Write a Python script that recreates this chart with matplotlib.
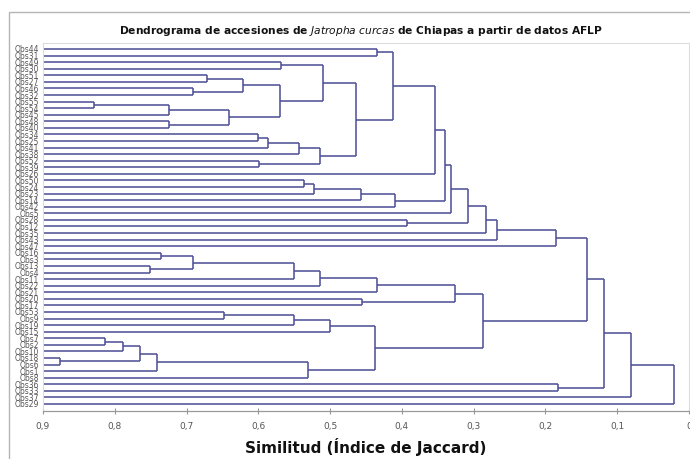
import matplotlib
matplotlib.use("Agg")
import matplotlib.pyplot as plt
from matplotlib.patches import Rectangle

# ---- data ----
leaf_labels = ["Obs44", "Obs31", "Obs49", "Obs30", "Obs51", "Obs27", "Obs46", "Obs32",
               "Obs55", "Obs54", "Obs45", "Obs48", "Obs40", "Obs34", "Obs25", "Obs41",
               "Obs38", "Obs52", "Obs39", "Obs26", "Obs50", "Obs24", "Obs23", "Obs14",
               "Obs42", "Obs5", "Obs28", "Obs12", "Obs35", "Obs43", "Obs47", "Obs16",
               "Obs3", "Obs13", "Obs4", "Obs11", "Obs22", "Obs21", "Obs20", "Obs17",
               "Obs53", "Obs9", "Obs19", "Obs15", "Obs7", "Obs2", "Obs10", "Obs18",
               "Obs6", "Obs1", "Obs8", "Obs36", "Obs33", "Obs37", "Obs29"]

# merges: node i joins merge_left[i] and merge_right[i] at similarity merge_sim[i]
merge_left = ["Obs44", "Obs49", "Obs51", "Obs46", "n2", "Obs55", "n5", "Obs48", "n6", "n4",
              "n1", "Obs34", "n11", "n12", "Obs52", "n13", "n10", "n0", "n17", "Obs50",
              "n19", "n20", "n21", "n18", "n23", "Obs28", "n24", "n26", "n27", "n28",
              "Obs16", "Obs13", "n30", "n32", "n33", "n34", "Obs20", "n35", "Obs53", "n38",
              "n39", "Obs7", "n41", "Obs18", "n42", "n44", "n45", "n40", "n37", "n29",
              "Obs36", "n49", "n51", "n52"]
merge_right = ["Obs31", "Obs30", "Obs27", "Obs32", "n3", "Obs54", "Obs45", "Obs40", "n7", "n8",
               "n9", "Obs25", "Obs41", "Obs38", "Obs39", "n14", "n15", "n16", "Obs26", "Obs24",
               "Obs23", "Obs14", "Obs42", "n22", "Obs5", "Obs12", "n25", "Obs35", "Obs43", "Obs47",
               "Obs3", "Obs4", "n31", "Obs11", "Obs22", "Obs21", "Obs17", "n36", "Obs9", "Obs19",
               "Obs15", "Obs2", "Obs10", "Obs6", "n43", "Obs1", "Obs8", "n46", "n47", "n48",
               "Obs33", "n50", "Obs37", "Obs29"]
merge_sim = [0.434, 0.568, 0.672, 0.691, 0.621, 0.829, 0.724, 0.725, 0.641, 0.570,
             0.510, 0.601, 0.586, 0.543, 0.599, 0.514, 0.464, 0.413, 0.354, 0.537,
             0.522, 0.457, 0.410, 0.340, 0.332, 0.393, 0.308, 0.283, 0.267, 0.185,
             0.735, 0.751, 0.691, 0.551, 0.514, 0.435, 0.455, 0.326, 0.648, 0.550,
             0.5005, 0.813, 0.789, 0.877, 0.765, 0.741, 0.531, 0.438, 0.287, 0.1425,
             0.183, 0.118, 0.081, 0.021]

x_ticks = [0.9, 0.8, 0.7, 0.6, 0.5, 0.4, 0.3, 0.2, 0.1, 0.0]
x_tick_labels = ["0,9", "0,8", "0,7", "0,6", "0,5", "0,4", "0,3", "0,2", "0,1", "0"]
leaf_sim = 0.9

# ---- figure ----
W, H = 690, 459
fig = plt.figure(figsize=(W / 100, H / 100), dpi=100)
ax = fig.add_axes([43 / W, 1 - 410.7 / H, (689 - 43) / W, (410.7 - 43) / H])

line_color = "#4c4c96"
pos_y = {name: i for i, name in enumerate(leaf_labels)}
pos_x = {name: leaf_sim for name in leaf_labels}
for i, (a, b, h) in enumerate(zip(merge_left, merge_right, merge_sim)):
    ya, yb = pos_y[a], pos_y[b]
    ax.plot([pos_x[a], h], [ya, ya], color=line_color, lw=1.1, solid_capstyle="butt")
    ax.plot([pos_x[b], h], [yb, yb], color=line_color, lw=1.1, solid_capstyle="butt")
    ax.plot([h, h], [ya, yb], color=line_color, lw=1.1, solid_capstyle="butt")
    node = "n%d" % i
    pos_y[node] = (ya + yb) / 2
    pos_x[node] = h

ax.set_xlim(0.9, 0.0)
ax.set_ylim(55.02, -0.91)
ax.set_xticks(x_ticks)
ax.set_xticklabels(x_tick_labels, fontsize=6.5, color="#555555")
ax.set_yticks(range(len(leaf_labels)))
ax.set_yticklabels(leaf_labels, fontsize=5.5, color="#555555")
ax.tick_params(axis="y", length=0, pad=3)
ax.tick_params(axis="x", length=4, width=0.8, color="#999999", direction="inout", pad=6)
for s in ["top", "right", "left"]:
    ax.spines[s].set_color("#dddddd")
    ax.spines[s].set_linewidth(0.8)
ax.spines["bottom"].set_color("#999999")
ax.spines["bottom"].set_linewidth(0.9)
for lab in ax.get_xticklabels():
    lab.set_clip_on(False)

ax.set_xlabel("Similitud (Índice de Jaccard)", fontsize=11, fontweight="bold",
              color="#111111", labelpad=5)

fig.text(361 / W, 1 - 31 / H,
         r"Dendrograma de accesiones de $\it{Jatropha\ curcas}$ de Chiapas a partir de datos AFLP",
         ha="center", va="center", fontsize=7.7, fontweight="bold", color="#111111")

fig.patches.append(Rectangle((9 / W, -0.05), 1.1, 1.05 - 12 / H, transform=fig.transFigure,
                             fill=False, edgecolor="#b5b5b5", lw=1.0))

fig.savefig("out.png", dpi=100)
